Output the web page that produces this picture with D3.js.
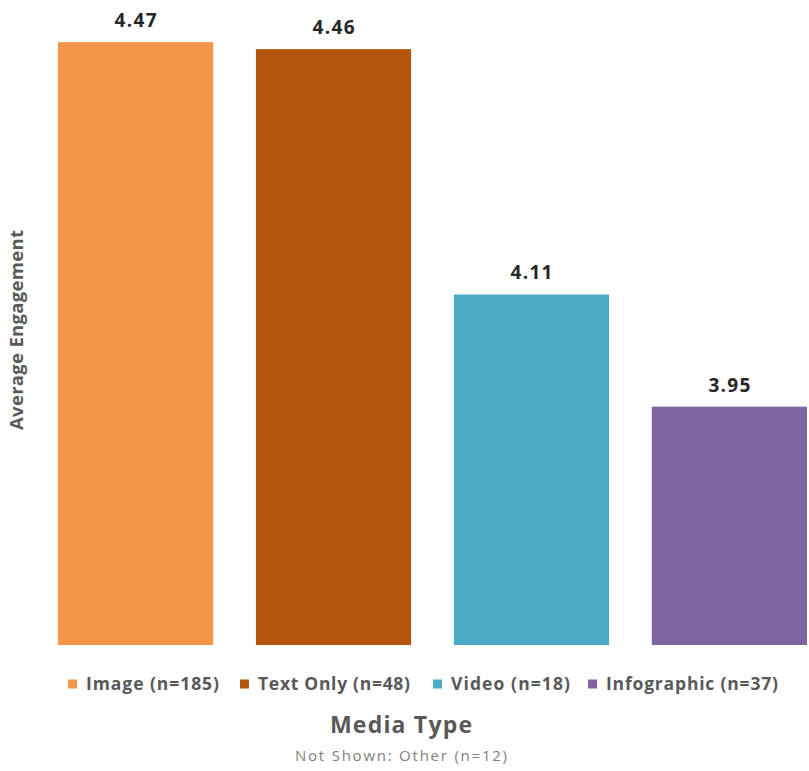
<!DOCTYPE html>
<html><head><meta charset="utf-8">
<script src="https://cdn.jsdelivr.net/npm/d3@7"></script>
<style>body{margin:0;background:#fff}</style>
</head><body>
<svg id="c" width="809" height="771"></svg>
<script>
const categories = ["Image", "Text Only", "Video", "Infographic"];
const counts = [185, 48, 18, 37];
const values = [4.47, 4.46, 4.11, 3.95];
const colors = ["#F4964A", "#B5560E", "#4BACC6", "#8064A2"];
const yDomain = [3.61, 4.5];
const xTitle = "Media Type";
const yTitle = "Average Engagement";
const note = "Not Shown: Other (n=12)";

const svg = d3.select("#c");
const font = "'Open Sans', Lato, sans-serif";
const x = d3.scaleBand().domain(categories).range([58, 807]).paddingInner(0.216).paddingOuter(0);
const y = d3.scaleLinear().domain(yDomain).range([645, 21.1]);

svg.selectAll("rect.bar").data(categories).join("rect").attr("class","bar")
  .attr("x", d => x(d)).attr("width", x.bandwidth())
  .attr("y", (d,i) => y(values[i])).attr("height", (d,i) => y(yDomain[0]) - y(values[i]))
  .attr("fill", (d,i) => colors[i]);

svg.selectAll("text.val").data(categories).join("text").attr("class","val")
  .attr("x", d => x(d) + x.bandwidth()/2).attr("y", (d,i) => y(values[i]) - 15)
  .attr("text-anchor","middle").attr("font-family", font).attr("font-weight","bold")
  .attr("font-size", 19).attr("fill","#262626")
  .attr("textLength", 42).attr("lengthAdjust","spacing")
  .text((d,i) => d3.format(".2f")(values[i]));

svg.append("text").attr("transform","translate(23,330) rotate(-90)")
  .attr("text-anchor","middle").attr("font-family", font).attr("font-weight","bold")
  .attr("font-size", 18.5).attr("fill","#595959")
  .attr("textLength", 200).attr("lengthAdjust","spacing").text(yTitle);

// legend
const legX = [68, 240, 433, 588];
const legW = [133, 152, 119, 172];
const leg = svg.selectAll("g.leg").data(categories).join("g").attr("class","leg")
  .attr("transform", (d,i) => `translate(${legX[i]},684)`);
leg.append("rect").attr("x",0).attr("y",-4.5).attr("width",9).attr("height",9).attr("fill",(d,i)=>colors[i]);
leg.append("text").attr("x",18).attr("y",6).attr("font-family", font).attr("font-weight","bold")
  .attr("font-size", 17.5).attr("fill","#595959")
  .attr("textLength", (d,i) => legW[i]).attr("lengthAdjust","spacing")
  .text((d,i) => `${d} (n=${counts[i]})`);

svg.append("text").attr("x",401).attr("y",733).attr("text-anchor","middle")
  .attr("font-family", font).attr("font-weight","bold").attr("font-size", 23).attr("fill","#595959")
  .attr("textLength", 142).attr("lengthAdjust","spacing").text(xTitle);
svg.append("text").attr("x",401).attr("y",761).attr("text-anchor","middle")
  .attr("font-family", font).attr("font-size", 15).attr("fill","#7f7f7f")
  .attr("textLength", 212).attr("lengthAdjust","spacing").text(note);
</script>
</body></html>
